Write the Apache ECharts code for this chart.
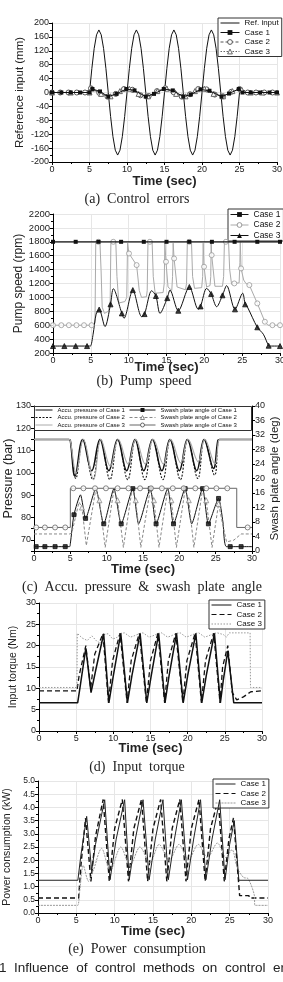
<!DOCTYPE html>
<html>
<head>
<meta charset="utf-8">
<script src="https://cdn.jsdelivr.net/npm/echarts@6/dist/echarts.min.js"></script>
<style>
  html, body { margin: 0; padding: 0; background: #fff; }
  #chart { width: 283px; height: 982px; }
</style>
</head>
<body>
<div id="chart"></div>
<script>
// (a) control errors
const aRefT = [0, 5, 5.3125, 5.625, 5.9375, 6.25, 6.5625, 6.875, 7.1875, 7.5, 7.8125, 8.125, 8.4375, 8.75, 9.0625, 9.375, 9.6875,
  10, 10.3125, 10.625, 10.9375, 11.25, 11.5625, 11.875, 12.1875, 12.5, 12.8125, 13.125, 13.4375, 13.75, 14.0625, 14.375, 14.6875,
  15, 15.3125, 15.625, 15.9375, 16.25, 16.5625, 16.875, 17.1875, 17.5, 17.8125, 18.125, 18.4375, 18.75, 19.0625, 19.375, 19.6875,
  20, 20.3125, 20.625, 20.9375, 21.25, 21.5625, 21.875, 22.1875, 22.5, 22.8125, 23.125, 23.4375, 23.75, 24.0625, 24.375, 24.6875,
  25, 25.2, 25.35, 30];
const aRefV = [0,
  0, 69, 127, 166, 180, 166, 127, 69, 0, -69, -127, -166, -180, -166, -127, -69,
  0, 69, 127, 166, 180, 166, 127, 69, 0, -69, -127, -166, -180, -166, -127, -69,
  0, 69, 127, 166, 180, 166, 127, 69, 0, -69, -127, -166, -180, -166, -127, -69,
  0, 69, 127, 166, 180, 166, 127, 69, 0, -69, -127, -166, -180, -166, -127, -69,
  0, 12, 0, 0];
const a1T = [0, 1.25, 2.5, 3.75, 5, 5.4, 6.4, 7.5, 8.6, 9.9, 11.0, 12.5, 13.6, 14.9, 16.1, 17.5, 18.5, 19.8, 21.0, 22.6, 23.6, 24.9, 25.4, 26.5, 27.75, 29, 30];
const a1V = [0, 0, 0, 0, 0, 10, 3, -12, -4, 10, 6, -12, -4, 10, 6, -12, -6, 9, 5, -12, -3, 10, 0, 0, 0, 0, 0];
const a2T = [0, 1.1, 2.2, 3.3, 4.4, 5.2, 6.3, 7.4, 8.5, 9.6, 10.7, 11.8, 12.9, 14, 15.1, 16.2, 17.3, 18.4, 19.5, 20.6, 21.7, 22.8, 23.9, 25, 26.1, 27.2, 28.3, 29.4];
const a2V = [0, 0, 0, 0, 0, 12, -1, -12, -4, 10, 8, -8, -10, 4, 12, 1, -12, -5, 10, 9, -6, -11, 2, 10, 0, 0, 0, 0];
const a3T = [0, 2.5, 5, 5.3, 6.55, 7.8, 9.05, 10.3, 11.55, 12.8, 14.05, 15.3, 16.55, 17.8, 19.05, 20.3, 21.55, 22.8, 24.05, 25.3, 26.5, 28, 30];
const a3V = [0, 0, 0, 11, -4, -11, 4, 11, -4, -11, 4, 11, -4, -11, 4, 11, -4, -11, 4, 8, 0, 0, 0];

// (b) pump speed
const b1T = [0, 3, 6, 9, 12, 15, 18, 21, 24, 27, 30];
const b1V = [1800, 1800, 1800, 1800, 1800, 1800, 1800, 1800, 1800, 1800, 1800];
const b2T = [0, 5.4, 5.55, 5.65, 5.75, 6.2, 6.35, 6.5, 6.8, 7.3, 7.55, 7.65, 7.75, 8.3, 8.45, 8.7, 9.5, 9.75, 9.85, 9.95,
  10.04, 11.05, 11.4, 11.7, 12.35, 12.45, 12.55, 12.65, 13.1, 13.25, 13.5, 14.55, 14.7, 14.78, 14.85, 14.93, 15.2, 15.7, 15.8, 15.88,
  15.95, 16.0, 16.4, 17.5, 17.65, 17.75, 17.85, 18.3, 18.45, 18.7, 19.65, 19.78, 19.85, 19.92, 19.96, 20.3, 20.75, 20.85, 20.9, 20.94,
  20.97, 21.4, 22.4, 22.55, 22.65, 22.75, 23.2, 23.35, 23.6, 23.96, 24.6, 24.7, 24.75, 24.85, 25.2, 25.5, 25.95, 27.0, 28.0, 28.4, 29.0, 30];
const b2V = [600, 600, 640, 1780, 1800, 1800, 1400, 860, 770, 800, 900, 1780, 1800, 1800, 1300, 920, 940, 1000, 1780, 1800,
  1632, 1465, 1100, 1000, 1010, 1100, 1780, 1800, 1800, 1300, 1060, 1070, 1200, 1780, 1800, 1513, 1150, 1100, 1300, 1780,
  1800, 1560, 1150, 1110, 1200, 1780, 1800, 1800, 1300, 1130, 1140, 1300, 1780, 1800, 1441, 1150, 1170, 1300, 1780, 1800,
  1608, 1160, 1160, 1300, 1780, 1800, 1800, 1400, 1190, 1201, 1210, 1500, 1800, 1417, 1250, 1200, 1177, 914, 650, 600, 600, 600];
const b2mT = [0, 1.1, 2.1, 3.1, 4.1, 5.1, 6.0, 7.97, 10.04, 11.05, 12.8, 14.93, 16.0, 18.0, 19.96, 20.97, 22.85, 23.96, 24.85, 25.95, 27.0, 28.0, 29.0, 30];
const b2mV = [600, 600, 600, 600, 600, 600, 1800, 1800, 1632, 1465, 1800, 1513, 1560, 1800, 1441, 1608, 1800, 1201, 1417, 1177, 914, 650, 600, 600];
const b3T = [0, 4.8, 4.95, 5.3, 5.7, 6.1, 6.87, 7.6, 7.97, 9.1, 9.38, 10.55, 11.72, 12.1, 13.04, 13.6, 14.14, 15.1, 15.46, 16.56, 18.02,
  19.2, 19.5, 20.31, 20.9, 21.63, 22.4, 22.95, 24.05, 25.07, 25.4, 25.7, 27.0, 27.8, 28.5, 28.7, 30];
const b3V = [300, 300, 300, 470, 760, 825, 580, 900, 1125, 770, 700, 1105, 722, 760, 1096, 1020, 770, 990, 1105, 808, 1150,
  828, 870, 1130, 1050, 866, 1030, 1170, 828, 1060, 900, 860, 570, 470, 305, 300, 300];
const b3mT = [0, 1.5, 3, 4.5, 6.1, 7.6, 9.1, 10.55, 12.1, 13.6, 15.1, 16.56, 18.02, 19.5, 20.9, 22.4, 24.05, 25.4, 27.0, 28.5, 30];
const b3mV = [300, 300, 300, 300, 825, 900, 770, 1105, 760, 1020, 990, 808, 1150, 870, 1050, 1030, 828, 900, 570, 305, 300];

// (c) accumulator pressure (bar) and swash plate angle (deg)
const cP1T = [0, 4.8, 5.0, 5.64, 6.7, 7.94, 9.08, 10.3, 11.5, 12.75, 13.9, 15.1, 16.3, 17.6, 18.7, 20.0, 21.1, 22.4, 23.4, 24.7, 25.3, 25.5, 30];
const cP1V = [115, 115, 114.5, 98.5, 115, 101, 115, 101, 115, 101, 115, 101, 115, 101, 115, 101, 115, 101, 115, 102, 114.5, 115, 115];
const cP2T = [0, 4.8, 5.0, 5.75, 6.75, 8.1, 9.15, 10.45, 11.55, 12.9, 13.95, 15.25, 16.35, 17.75, 18.75, 20.15, 21.15, 22.55, 23.45, 24.85, 25.35, 25.55, 30];
const cP2V = [115, 115, 114.5, 97.5, 115, 97, 115, 97, 115, 97, 115, 97, 115, 97, 115, 97, 115, 97.5, 115, 99, 114.5, 115, 115];
const cP3T = [0, 4.8, 5.0, 5.8, 6.8, 8.2, 9.2, 10.5, 11.6, 12.95, 14.0, 15.3, 16.4, 17.8, 18.8, 20.2, 21.2, 22.6, 23.5, 24.9, 25.4, 25.6, 30];
const cP3V = [115, 115, 114.5, 100, 115, 97, 115, 103, 115, 104, 115, 104, 115, 104, 115, 104.5, 115, 105, 115, 104, 114.5, 115, 115];
const cS1T = [0, 4.9, 5.0, 5.5, 6.4, 7.1, 8.5, 9.6, 11.0, 12.0, 13.6, 14.4, 16.0, 16.8, 18.4, 19.2, 20.8, 21.7, 23.2, 24.0, 25.4, 26.0, 26.5, 30];
const cS1V = [1.2, 1.2, 2, 10, 15.5, 9, 17.2, 7.5, 17.2, 7.5, 17.2, 7.5, 17.2, 7.5, 17.2, 7.5, 17.2, 7.5, 17.2, 7.5, 14.5, 8, 1.2, 1.2];
const cS1mT = [0.3, 1.5, 2.9, 4.3, 5.5, 7.1, 9.6, 12.0, 13.6, 16.0, 16.8, 19.2, 20.8, 23.2, 24.0, 25.4, 27.0, 28.5];
const cS1mV = [1.2, 1.2, 1.2, 1.2, 10, 9, 7.5, 7.5, 17.2, 17.2, 7.5, 7.5, 17.2, 17.2, 7.5, 14.5, 1.2, 1.2];
const cS2T = [0, 4.9, 5.0, 5.2, 6.2, 6.6, 7.2, 8.5, 9.0, 9.8, 11.0, 11.5, 12.3, 13.5, 14.0, 14.7, 16.0, 16.5, 17.2, 18.4, 18.9, 19.6,
  20.8, 21.3, 22.0, 23.2, 23.7, 24.5, 25.4, 25.9, 26.5, 27.5, 28.5, 30];
const cS2V = [4.7, 4.7, 4.7, 5, 13.5, 12, 1.5, 17, 14, 1, 17, 14, 1, 17, 14, 1, 17, 14, 1, 17, 14, 1,
  17, 14, 1, 17, 14, 1, 13, 8, 2.5, 3, 4.7, 4.7];
const cS2mT = [6.6, 9.0, 11.5, 14.0, 16.5, 18.9, 21.3, 23.7, 25.4];
const cS2mV = [12, 14, 14, 14, 14, 14, 14, 14, 13];
const cS3T = [0, 5.0, 5.0, 27.9, 27.9, 30];
const cS3V = [6.5, 6.5, 17.3, 17.3, 6.5, 6.5];
const cS3mT = [0.3, 1.5, 2.9, 4.3, 5.4, 6.8, 8.4, 9.9, 11.5, 13.0, 14.6, 16.1, 17.6, 19.1, 20.6, 22.2, 23.7, 25.1, 26.6, 29.4];
const cS3mV = [6.5, 6.5, 6.5, 6.5, 17.3, 17.3, 17.3, 17.3, 17.3, 17.3, 17.3, 17.3, 17.3, 17.3, 17.3, 17.3, 17.3, 17.3, 17.3, 6.5];

// (d) input torque (Nm)
const dC1T = [0, 5.2, 5.5, 6.3, 7.0, 7.6, 8.7, 9.4, 10.0, 11.0, 11.9, 12.5, 13.6, 14.5, 15.1, 16.1, 16.95, 17.5, 18.5, 19.4,
  20.0, 21.1, 21.9, 22.5, 23.6, 24.4, 24.8, 25.4, 26.2, 30];
const dC1V = [6.6, 6.6, 10, 19.4, 9.0, 14, 22.8, 6.6, 13, 22.9, 6.6, 13, 22.9, 6.6, 13, 22.9, 6.6, 13, 22.9, 6.6,
  13, 22.9, 6.6, 13, 22.9, 6.6, 12, 18.8, 6.6, 6.6];
const dC2T = [0, 5.1, 5.4, 6.3, 6.95, 7.5, 8.6, 9.35, 9.9, 10.9, 11.85, 12.4, 13.5, 14.45, 15.0, 16.0, 16.9, 17.4, 18.4, 19.35,
  19.9, 21.0, 21.85, 22.4, 23.5, 24.35, 24.7, 25.4, 26.0, 26.6, 27.5, 28.5, 30];
const dC2V = [9.4, 9.4, 13, 20, 10, 18, 22.8, 6.6, 16.5, 22.9, 6.6, 16.5, 22.9, 6.6, 16.5, 22.9, 6.6, 16.5, 22.9, 6.6,
  16.5, 22.9, 6.6, 16.5, 22.9, 6.6, 15, 20, 9, 7.3, 8, 9.2, 9.4];
const dC3T = [0, 5.1, 5.15, 5.8, 6.5, 7.1, 7.8, 8.3, 8.7, 9.3, 9.9, 10.4, 11.0, 11.5, 12.3, 12.8, 13.6, 14.0, 14.8, 15.3,
  16.1, 16.5, 17.3, 17.8, 18.5, 19.0, 19.8, 20.3, 21.1, 21.5, 22.3, 22.8, 23.6, 24.0, 24.8, 25.2, 25.6, 28.4, 28.45, 30];
const dC3V = [10.2, 10.2, 22.9, 21.8, 21.2, 22.3, 21.0, 20.6, 22.6, 22.8, 21.6, 21.8, 22.9, 23, 22, 22.3, 22.9, 23, 22, 22.3,
  22.9, 23, 22, 22.3, 22.9, 23, 22, 22.3, 22.9, 23, 22, 22.3, 22.9, 23, 22.6, 22.0, 23, 23, 10.2, 10.2];

// (e) power consumption (kW)
const eC1T = [0, 5.2, 5.6, 6.35, 7.0, 7.5, 8.7, 9.4, 10.2, 11.3, 11.9, 12.7, 13.7, 14.5, 15.3, 16.3, 17.0, 17.8, 18.7, 19.5,
  20.3, 21.2, 21.9, 22.7, 23.7, 24.4, 25.0, 25.6, 26.2, 30];
const eC1V = [1.24, 1.24, 2.2, 3.66, 1.6, 2.6, 4.29, 1.26, 2.8, 4.29, 1.26, 2.8, 4.29, 1.26, 2.8, 4.29, 1.26, 2.8, 4.29, 1.26,
  2.8, 4.29, 1.26, 2.8, 4.29, 1.26, 2.6, 3.5, 1.24, 1.24];
const eC2T = [0, 5.3, 5.6, 6.2, 6.9, 7.5, 8.5, 9.3, 10.0, 11.0, 11.8, 12.5, 13.5, 14.3, 15.0, 16.0, 16.8, 17.5, 18.5, 19.3,
  20.0, 21.0, 21.8, 22.5, 23.5, 24.3, 24.9, 25.5, 26.3, 27.5, 27.6, 30];
const eC2V = [0.57, 0.57, 1.8, 3.6, 1.2, 2.9, 4.3, 1.2, 3.2, 4.3, 1.2, 3.2, 4.3, 1.2, 3.2, 4.3, 1.2, 3.2, 4.3, 1.2,
  3.2, 4.3, 1.2, 3.2, 4.3, 1.2, 2.8, 3.6, 0.66, 0.66, 0.57, 0.57];
const eC3T = [0, 5.0, 5.2, 5.5, 5.9, 6.6, 7.2, 8.3, 9.4, 10.8, 12.0, 13.3, 14.6, 15.8, 17.1, 18.4, 19.6, 20.9, 22.1, 23.4,
  24.5, 25.3, 26.0, 26.8, 27.4, 28.2, 28.3, 30];
const eC3V = [0.29, 0.29, 0.29, 1.0, 1.8, 1.2, 1.6, 2.45, 1.6, 2.5, 1.8, 2.5, 1.9, 2.6, 2.0, 2.6, 2.0, 2.6, 2.1, 2.65,
  2.1, 2.4, 1.7, 1.35, 1.3, 0.7, 0.29, 0.29];

const FONT = 'Liberation Sans';
const SERIF = 'Liberation Serif';
const pairs = (t, v) => t.map((x, i) => [x, v[i]]);

function xAx(gi, gap, grid) {
  return {
    type: 'value', gridIndex: gi, min: 0, max: 30, interval: 5,
    name: 'Time (sec)', nameLocation: 'middle', nameGap: gap, nameMoveOverlap: false,
    nameTextStyle: { fontFamily: FONT, fontWeight: 'bold', fontSize: 13, color: '#222' },
    axisLine: { onZero: false, lineStyle: { color: '#000', width: 1 } },
    axisTick: { length: 3, lineStyle: { color: '#000' } },
    minorTick: { show: true, splitNumber: 2, length: 2, lineStyle: { color: '#000' } },
    axisLabel: { fontFamily: FONT, fontSize: 9, margin: 3, color: '#222' },
    splitLine: { show: grid, lineStyle: { color: '#e6e6e6', width: 1 } }
  };
}
function yAx(gi, o) {
  return Object.assign({
    type: 'value', gridIndex: gi, nameLocation: 'middle', nameRotate: 90, nameMoveOverlap: false,
    nameTextStyle: { fontFamily: FONT, fontSize: 11.5, color: '#222' },
    axisLine: { show: true, onZero: false, lineStyle: { color: '#000', width: 1 } },
    axisTick: { show: true, length: 3, lineStyle: { color: '#000' } },
    minorTick: { show: true, splitNumber: 2, length: 2, lineStyle: { color: '#000' } },
    axisLabel: { fontFamily: FONT, fontSize: 9, margin: 3, color: '#222', formatter: v => String(v) },
    splitLine: { show: true, lineStyle: { color: '#e6e6e6', width: 1 } }
  }, o);
}
function line(name, xi, yi, t, v, o) {
  return Object.assign({
    name, type: 'line', xAxisIndex: xi, yAxisIndex: yi, data: pairs(t, v),
    symbol: 'none', showSymbol: false, animation: false, silent: true, z: 3
  }, o);
}
function marks(xi, yi, t, v, symbol, size, fill, border) {
  return {
    name: '_m', type: 'scatter', xAxisIndex: xi, yAxisIndex: yi, data: pairs(t, v),
    symbol, symbolSize: size, animation: false, silent: true, z: 4,
    itemStyle: { color: fill, borderColor: border, borderWidth: 1 }
  };
}
// legend entry for a plain line: hide the marker in the icon
const plain = name => ({ name, itemStyle: { opacity: 0 } });
function legendBox(left, top, names, fs, iw) {
  return {
    left, top, orient: 'vertical', data: names, selectedMode: false,
    itemWidth: iw, itemHeight: 6, itemGap: 1.5, padding: [1, 3, 1, 2],
    borderColor: '#333', borderWidth: 1, backgroundColor: '#fff',
    itemStyle: { borderWidth: 1 }, lineStyle: { width: 1 },
    textStyle: { fontFamily: FONT, fontSize: fs, color: '#111' }
  };
}
function caption(text, x, y, font) {
  return { type: 'text', x, y, silent: true,
    style: { text, font, fill: '#222', align: 'center', verticalAlign: 'middle' } };
}

const Z1 = '\u200b', Z2 = '\u200b\u200b', Z3 = '\u200b\u200b\u200b';

const option = {
  backgroundColor: '#fff',
  animation: false,
  grid: [
    { left: 52, top: 23, width: 225, height: 139, outerBoundsMode: 'none' },
    { left: 53, top: 214, width: 227, height: 139, outerBoundsMode: 'none' },
    { left: 34, top: 406, width: 218, height: 145, outerBoundsMode: 'none' },
    { left: 39, top: 603, width: 223, height: 128, outerBoundsMode: 'none' },
    { left: 38, top: 781, width: 230, height: 132, outerBoundsMode: 'none' }
  ],
  xAxis: [xAx(0, 13, true), xAx(1, 8, true), xAx(2, 12, false), xAx(3, 11, true), xAx(4, 12, true)],
  yAxis: [
    yAx(0, { min: -200, max: 200, interval: 40, name: 'Reference input (mm)', nameGap: 26 }),
    yAx(1, { min: 200, max: 2200, interval: 200, name: 'Pump speed (rpm)', nameGap: 28,
      nameTextStyle: { fontFamily: FONT, fontSize: 12, color: '#222' },
      axisLabel: { fontFamily: FONT, fontSize: 9.5, margin: 3, color: '#222', formatter: v => String(v) } }),
    yAx(2, { min: 65, max: 130, interval: 5, name: 'Pressure (bar)', nameGap: 19,
      nameTextStyle: { fontFamily: FONT, fontSize: 12.5, color: '#222' },
      minorTick: { show: false }, splitLine: { show: false },
      axisLabel: { fontFamily: FONT, fontSize: 9, margin: 3, color: '#222',
        formatter: v => (v % 10 === 0 ? String(v) : '') } }),
    yAx(2, { min: 0, max: 40, interval: 4, position: 'right', name: 'Swash plate angle (deg)', nameGap: 17,
      splitLine: { show: false }, minorTick: { show: false } }),
    yAx(3, { min: 0, max: 30, interval: 5, name: 'Input torque (Nm)', nameGap: 20,
      nameTextStyle: { fontFamily: FONT, fontSize: 10.5, color: '#222' } }),
    yAx(4, { min: 0, max: 5, interval: 0.5, name: 'Power consumption (kW)', nameGap: 25,
      nameTextStyle: { fontFamily: FONT, fontSize: 10.5, color: '#222' },
      axisLabel: { fontFamily: FONT, fontSize: 8.5, margin: 3, color: '#222', formatter: v => v.toFixed(1) } })
  ],
  legend: [
    legendBox(218, 18, [plain('Ref. input'), 'Case 1', 'Case 2', 'Case 3'], 8, 19),
    legendBox(228, 209, ['Case 1' + Z1, 'Case 2' + Z1, 'Case 3' + Z1], 8.5, 18),
    Object.assign(legendBox(35, 407, [plain('Accu. pressure of Case 1'), plain('Accu. pressure of Case 2'),
      plain('Accu. pressure of Case 3')], 6, 17),
      { borderWidth: 0, backgroundColor: 'transparent', itemHeight: 5, itemGap: 1.5, padding: 0 }),
    Object.assign(legendBox(129, 407, ['Swash plate angle of Case 1', 'Swash plate angle of Case 2',
      'Swash plate angle of Case 3'], 6, 26),
      { borderWidth: 0, backgroundColor: 'transparent', itemHeight: 5, itemGap: 1.5, padding: 0 }),
    legendBox(209, 600, [plain('Case 1' + Z2), plain('Case 2' + Z2), plain('Case 3' + Z2)], 8, 20),
    legendBox(213, 779, [plain('Case 1' + Z3), plain('Case 2' + Z3), plain('Case 3' + Z3)], 8, 20)
  ],
  graphic: [
    { type: 'rect', shape: { x: 34.5, y: 406.5, width: 217, height: 24 }, z: 1, silent: true,
      style: { fill: '#fff', stroke: '#333', lineWidth: 1 } },
    caption('(a)  Control  errors', 137, 199, '14px "' + SERIF + '"'),
    caption('(b)  Pump  speed', 144, 381, '14px "' + SERIF + '"'),
    caption('(c)  Accu.  pressure  &  swash  plate  angle', 142, 587, '14px "' + SERIF + '"'),
    caption('(d)  Input  torque', 137, 767, '14px "' + SERIF + '"'),
    caption('(e)  Power  consumption', 137, 949, '14px "' + SERIF + '"'),
    { type: 'text', x: -1, y: 968, silent: true,
      style: { text: '1  Influence  of  control  methods  on  control  errors,', font: '13.5px "' + FONT + '"',
        fill: '#222', align: 'left', verticalAlign: 'middle' } }
  ],
  series: [
    // (a)
    line('Ref. input', 0, 0, aRefT, aRefV, { lineStyle: { color: '#111', width: 1 }, itemStyle: { color: '#111' } }),
    line('Case 1', 0, 0, a1T, a1V, { symbol: 'rect', showSymbol: true, symbolSize: 4,
      lineStyle: { color: '#111', width: 1 }, itemStyle: { color: '#111' }, z: 5 }),
    line('Case 2', 0, 0, a2T, a2V, { symbol: 'circle', showSymbol: true, symbolSize: 5,
      lineStyle: { color: '#555', width: 1, type: [3, 2] }, itemStyle: { color: '#fff', borderColor: '#555', borderWidth: 1 }, z: 4 }),
    line('Case 3', 0, 0, a3T, a3V, { symbol: 'triangle', showSymbol: true, symbolSize: 5,
      lineStyle: { color: '#666', width: 1, type: [1.5, 1.5] }, itemStyle: { color: '#fff', borderColor: '#666', borderWidth: 1 }, z: 4 }),
    // (b)
    line('Case 1' + Z1, 1, 1, b1T, b1V, { symbol: 'rect', showSymbol: true, symbolSize: 4,
      lineStyle: { color: '#111', width: 1.2 }, itemStyle: { color: '#111' }, z: 5 }),
    line('Case 2' + Z1, 1, 1, b2T, b2V, { symbol: 'circle', symbolSize: 5,
      lineStyle: { color: '#aaa', width: 1 }, itemStyle: { color: '#fff', borderColor: '#999', borderWidth: 1 } }),
    marks(1, 1, b2mT, b2mV, 'circle', 5, '#fff', '#999'),
    line('Case 3' + Z1, 1, 1, b3T, b3V, { symbol: 'triangle', symbolSize: 5, smooth: 0.3,
      lineStyle: { color: '#111', width: 1 }, itemStyle: { color: '#111' } }),
    marks(1, 1, b3mT, b3mV, 'triangle', 5, '#111', '#111'),
    // (c)
    line('Accu. pressure of Case 1', 2, 2, cP1T, cP1V, { smooth: 0.4, lineStyle: { color: '#111', width: 1.6 }, itemStyle: { color: '#111' } }),
    line('Accu. pressure of Case 2', 2, 2, cP2T, cP2V, { smooth: 0.4, lineStyle: { color: '#111', width: 1.1, type: [2, 1.5] }, itemStyle: { color: '#111' } }),
    line('Accu. pressure of Case 3', 2, 2, cP3T, cP3V, { smooth: 0.4, lineStyle: { color: '#aaa', width: 1.2 }, itemStyle: { color: '#aaa' } }),
    line('Swash plate angle of Case 1', 2, 3, cS1T, cS1V, { symbol: 'rect', symbolSize: 4, smooth: 0.2,
      lineStyle: { color: '#111', width: 1 }, itemStyle: { color: '#111' } }),
    marks(2, 3, cS1mT, cS1mV, 'rect', 4, '#111', '#111'),
    line('Swash plate angle of Case 2', 2, 3, cS2T, cS2V, { symbol: 'triangle', symbolSize: 5,
      lineStyle: { color: '#888', width: 1, type: [3, 2] }, itemStyle: { color: '#fff', borderColor: '#888', borderWidth: 1 } }),
    marks(2, 3, cS2mT, cS2mV, 'triangle', 5, '#fff', '#888'),
    line('Swash plate angle of Case 3', 2, 3, cS3T, cS3V, { symbol: 'circle', symbolSize: 5,
      lineStyle: { color: '#666', width: 1 }, itemStyle: { color: '#fff', borderColor: '#666', borderWidth: 1 } }),
    marks(2, 3, cS3mT, cS3mV, 'circle', 5, '#fff', '#666'),
    // (d)
    line('Case 1' + Z2, 3, 4, dC1T, dC1V, { lineStyle: { color: '#111', width: 1.5 }, itemStyle: { color: '#111' }, z: 5 }),
    line('Case 2' + Z2, 3, 4, dC2T, dC2V, { lineStyle: { color: '#111', width: 1.3, type: [5, 3] }, itemStyle: { color: '#111' } }),
    line('Case 3' + Z2, 3, 4, dC3T, dC3V, { lineStyle: { color: '#999', width: 1, type: [1.5, 1.5] }, itemStyle: { color: '#999' } }),
    // (e)
    line('Case 1' + Z3, 4, 5, eC1T, eC1V, { lineStyle: { color: '#222', width: 1 }, itemStyle: { color: '#222' }, z: 5 }),
    line('Case 2' + Z3, 4, 5, eC2T, eC2V, { lineStyle: { color: '#111', width: 1.4, type: [5, 3] }, itemStyle: { color: '#111' } }),
    line('Case 3' + Z3, 4, 5, eC3T, eC3V, { smooth: 0.3, lineStyle: { color: '#999', width: 1, type: [2, 1] }, itemStyle: { color: '#999' } })
  ]
};

const chart = echarts.init(document.getElementById('chart'), null, { renderer: 'canvas' });
chart.setOption(option);
</script>
</body>
</html>
